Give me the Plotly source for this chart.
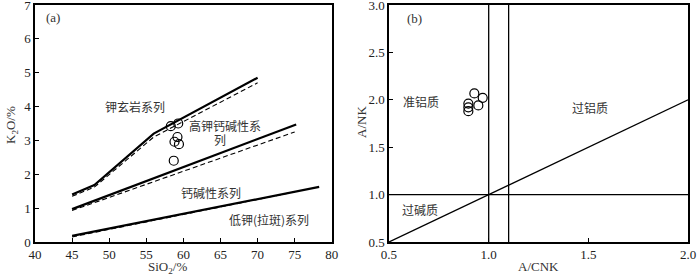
import plotly.graph_objects as go

# ---- Panel (a) data: SiO2 vs K2O ----
shos_solid_x = [45, 48, 56, 70]
shos_solid_y = [1.40, 1.68, 3.20, 4.85]
shos_dash_x = [45, 48, 56, 70]
shos_dash_y = [1.35, 1.62, 3.10, 4.70]
hk_solid_x = [45, 75.2]
hk_solid_y = [0.97, 3.47]
hk_dash_x = [45, 75]
hk_dash_y = [0.93, 3.25]
lk_solid_x = [45, 78.3]
lk_solid_y = [0.18, 1.63]
lk_dash_x = [45, 75]
lk_dash_y = [0.15, 1.48]
sio2 = [58.3, 59.3, 59.2, 58.8, 59.4, 58.7]
k2o = [3.42, 3.50, 3.10, 2.96, 2.89, 2.40]

# ---- Panel (b) data: A/CNK vs A/NK ----
acnk = [0.928, 0.970, 0.948, 0.898, 0.898, 0.898]
anK = [2.067, 2.02, 1.94, 1.96, 1.92, 1.88]
diag_x = [0.5, 2.0]
diag_y = [0.5, 2.0]
vline1 = 1.0
vline2 = 1.1
hline = 1.0

serif = "Liberation Serif"
cjk = "Noto Sans CJK SC"

fig = go.Figure()

def line(x, y, dash, w, xa="x", ya="y"):
    fig.add_trace(go.Scatter(x=x, y=y, mode="lines", xaxis=xa, yaxis=ya,
                             line=dict(color="black", width=w, dash=dash),
                             showlegend=False, hoverinfo="skip"))

for xs, ys in [(shos_solid_x, shos_solid_y), (hk_solid_x, hk_solid_y), (lk_solid_x, lk_solid_y)]:
    line(xs, ys, "solid", 2.2)
for xs, ys in [(shos_dash_x, shos_dash_y), (hk_dash_x, hk_dash_y), (lk_dash_x, lk_dash_y)]:
    line(xs, ys, "5px,3px", 1.1)

fig.add_trace(go.Scatter(x=sio2, y=k2o, mode="markers", xaxis="x", yaxis="y",
                         marker=dict(symbol="circle-open", size=9, color="black", line=dict(width=1.2)),
                         showlegend=False))

# panel b lines
line(diag_x, diag_y, "solid", 1.3, "x2", "y2")
line([vline1, vline1], [0.5, 3.0], "solid", 1.3, "x2", "y2")
line([vline2, vline2], [0.5, 3.0], "solid", 1.3, "x2", "y2")
line([0.5, 2.0], [hline, hline], "solid", 1.3, "x2", "y2")
fig.add_trace(go.Scatter(x=acnk, y=anK, mode="markers", xaxis="x2", yaxis="y2",
                         marker=dict(symbol="circle-open", size=9, color="black", line=dict(width=1.2)),
                         showlegend=False))

ax_common = dict(showgrid=False, zeroline=False, showline=True, linecolor="black",
                 linewidth=1.5, mirror=True, tickfont=dict(family=serif, size=13, color="#222"),
                 ticks="inside", ticklen=4, tickcolor="black", ticklabeloverflow="allow",
                 automargin=False)

ydom = [0.12, 0.982]
fig.update_layout(
    width=700, height=275, margin=dict(l=0, r=0, t=0, b=0, autoexpand=False),
    paper_bgcolor="white", plot_bgcolor="white",
    xaxis=dict(domain=[0.05, 0.474], range=[40, 80], dtick=5, anchor="y", **ax_common),
    yaxis=dict(domain=ydom, range=[0, 7], dtick=1, anchor="x", **ax_common),
    xaxis2=dict(domain=[0.5557, 0.983], range=[0.5, 2.0], tickvals=[0.5, 1.0, 1.5, 2.0],
                ticktext=["0.5", "1.0", "1.5", "2.0"], anchor="y2", **ax_common),
    yaxis2=dict(domain=ydom, range=[0.5, 3.0], tickvals=[0.5, 1.0, 1.5, 2.0, 2.5, 3.0],
                ticktext=["0.5", "1.0", "1.5", "2.0", "2.5", "3.0"], anchor="x2", **ax_common),
)

def ann(text, x, y, xref="paper", yref="paper", size=12, family=cjk, angle=0, xanchor="center"):
    fig.add_annotation(text=text, x=x, y=y, xref=xref, yref=yref, showarrow=False,
                       font=dict(family=family, size=size, color="#333"), textangle=angle,
                       xanchor=xanchor, yanchor="middle")

# panel a texts (data coords)
ann("(a)", 41.2, 6.62, "x", "y", size=13, family=serif, xanchor="left")
ann("钾玄岩系列", 53.5, 4.01, "x", "y", size=12)
ann("高钾钙碱性系", 65.6, 3.45, "x", "y", size=12)
ann("列", 64.9, 3.02, "x", "y", size=12)
ann("钙碱性系列", 63.7, 1.45, "x", "y", size=12)
ann("低钾(拉斑)系列", 71.5, 0.65, "x", "y", size=12)

# panel b texts
ann("(b)", 0.58, 2.86, "x2", "y2", size=13, family=serif, xanchor="left")
ann("准铝质", 0.66, 1.986, "x2", "y2", size=12)
ann("过铝质", 1.507, 1.92, "x2", "y2", size=12)
ann("过碱质", 0.655, 0.845, "x2", "y2", size=12)

# axis titles
ann("K<sub>2</sub>O/%", 11 / 700, 1 - 125 / 275, size=13, family=serif, angle=-90)
ann("SiO<sub>2</sub>/%", 167 / 700, 1 - 267.5 / 275, size=13, family=serif)
ann("A/NK", 362 / 700, 1 - 122 / 275, size=13, family=serif, angle=-90)
ann("A/CNK", 538 / 700, 1 - 266.5 / 275, size=13, family=serif)

fig.write_html("out.html", config={"displayModeBar": False},
               post_script="document.body.style.margin='0px';document.body.style.overflow='hidden';")
